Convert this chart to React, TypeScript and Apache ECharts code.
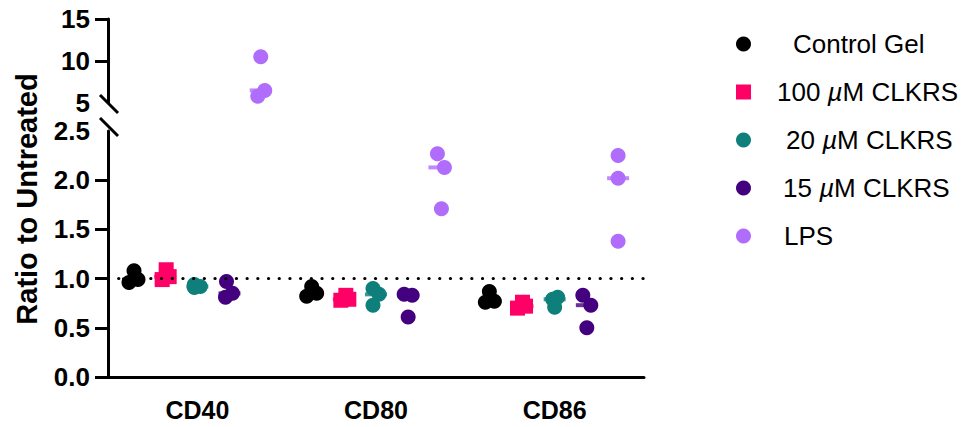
import React, { useEffect, useRef } from 'react';
import * as echarts from 'echarts';

const categories = ['CD40', 'CD80', 'CD86'];
const groupNames = ['Control Gel', '100 µM CLKRS', '20 µM CLKRS', '15 µM CLKRS', 'LPS'];
const groupColors = ['#000000', '#FF0066', '#0E7F7B', '#43007F', '#B06CFB'];
const groupSymbols = ['circle', 'rect', 'circle', 'circle', 'circle'];

// values per category (CD40, CD80, CD86), three replicates each
const controlGel = [[1.08, 0.96, 0.99], [0.92, 0.82, 0.85], [0.87, 0.76, 0.77]];
const clkrs100 = [[1.09, 0.99, 1.02], [0.83, 0.78, 0.79], [0.76, 0.70, 0.72]];
const clkrs20 = [[0.94, 0.92, 0.91], [0.90, 0.84, 0.73], [0.81, 0.79, 0.71]];
const clkrs15 = [[0.97, 0.81, 0.85], [0.84, 0.83, 0.61], [0.83, 0.73, 0.50]];
const lps = [[10.5, 6.5, 5.8], [2.27, 2.13, 1.71], [2.25, 2.02, 1.38]];
const groupValues = [controlGel, clkrs100, clkrs20, clkrs15, lps];

// horizontal scatter (px) of the replicates in each group
const controlGelJitter = [[1, -4, 5], [0, -5, 5], [-1, -5, 4]];
const clkrs100Jitter = [[1, -3, 4], [2, -3, 5], [0, -5, 3]];
const clkrs20Jitter = [[-3, 3, -3], [-3, 3, -3], [3, -2, 0]];
const clkrs15Jitter = [[-3, -4, 3], [-4, 4, 0], [-4, 4, 0]];
const lpsJitter = [[0, 4, -3], [-2, 5, 2], [0, 0, 0]];
const groupJitter = [controlGelJitter, clkrs100Jitter, clkrs20Jitter, clkrs15Jitter, lpsJitter];

const lowerTickLabels = [0, 0.5, 1, 1.5, 2, 2.5];
const lowerTicks = [0, 0.5, 1, 1.5, 2];
const upperTickLabels = [5, 10, 15];
const upperTicks = [10, 15];
const breakValue = 2.5;
const referenceValue = 1;

const groupOffsets = [-0.36, -0.18, 0, 0.18, 0.355];
const legendPad = [37, 21, 30, 27, 28];

const GRID_LEFT = 108;
const GRID_RIGHT = 321;
const BAND_PX = (965 - GRID_LEFT - GRID_RIGHT) / categories.length;

const FONT = '"Liberation Sans", Arial, Helvetica, sans-serif';

function median(a: number[]) {
  const s = [...a].sort((x, y) => x - y);
  return s[Math.floor(s.length / 2)];
}

export default function App() {
  const ref = useRef<HTMLDivElement>(null);
  useEffect(() => {
    if (!ref.current) return;
    const chart = echarts.init(ref.current, undefined, { renderer: 'svg' });

    const series: any[] = [];
    groupNames.forEach((name, g) => {
      const lower: number[][] = [];
      const upper: number[][] = [];
      const medLower: number[][] = [];
      const medUpper: number[][] = [];
      categories.forEach((_, c) => {
        const vals = groupValues[g][c];
        const cx = c + 0.5 + groupOffsets[g];
        vals.forEach((v, k) => {
          const x = cx + groupJitter[g][c][k] / BAND_PX;
          (v > breakValue ? upper : lower).push([x, v]);
        });
        const m = median(vals);
        (m > breakValue ? medUpper : medLower).push([cx, m]);
      });
      const base = {
        type: 'scatter',
        symbol: groupSymbols[g],
        symbolSize: 15,
        itemStyle: { color: groupColors[g], opacity: 1 },
        z: 3,
        silent: true,
      };
      series.push({ ...base, name, xAxisIndex: 1, yAxisIndex: 0, data: lower });
      series.push({ ...base, name, xAxisIndex: 2, yAxisIndex: 1, data: upper });
      const medBase = {
        type: 'scatter',
        symbol: 'rect',
        symbolSize: [22, 4],
        itemStyle: { color: groupColors[g] },
        z: 2,
        silent: true,
      };
      series.push({ ...medBase, name: name + ' median', xAxisIndex: 1, yAxisIndex: 0, data: medLower });
      series.push({ ...medBase, name: name + ' median ', xAxisIndex: 2, yAxisIndex: 1, data: medUpper });
    });
    series.push({
      type: 'line',
      name: 'reference',
      xAxisIndex: 1,
      yAxisIndex: 0,
      data: [],
      silent: true,
      z: 1,
      markLine: {
        silent: true,
        symbol: 'none',
        label: { show: false },
        lineStyle: { color: '#000', width: 3.2, type: [0.1, 10.6], cap: 'round' },
        data: [{ yAxis: referenceValue }],
      },
    });

    const rich: any = {
      i: { fontStyle: 'italic', fontSize: 26, fontFamily: FONT, color: '#000' },
      u: { fontSize: 26, fontFamily: FONT, color: '#000' },
    };
    legendPad.forEach((p, i) => {
      rich['t' + i] = { fontSize: 26, fontFamily: FONT, color: '#000', padding: [0, 0, 0, p] };
    });

    const axisLabelStyle = {
      fontSize: 26,
      fontWeight: 'bold',
      fontFamily: FONT,
      color: '#000',
      margin: 18,
    };

    chart.setOption({
      animation: false,
      backgroundColor: '#fff',
      grid: [
        { left: GRID_LEFT, right: GRID_RIGHT, top: 131, bottom: 50 },
        { left: GRID_LEFT, right: GRID_RIGHT, top: 19, height: 84 },
      ],
      xAxis: [
        {
          type: 'category',
          gridIndex: 0,
          data: categories,
          boundaryGap: true,
          axisLine: { lineStyle: { color: '#000', width: 3 } },
          axisTick: { alignWithLabel: true, length: 13, lineStyle: { color: '#000', width: 3 } },
          axisLabel: { ...axisLabelStyle, fontSize: 25, margin: 20 },
          splitLine: { show: false },
        },
        { type: 'value', gridIndex: 0, min: 0, max: 3, show: false },
        { type: 'value', gridIndex: 1, min: 0, max: 3, show: false },
      ],
      yAxis: [
        {
          type: 'value',
          gridIndex: 0,
          min: 0,
          max: breakValue,
          interval: 0.5,
          axisLine: { show: true, lineStyle: { color: '#000', width: 3 } },
          axisTick: { show: true, length: 13, customValues: lowerTicks, lineStyle: { color: '#000', width: 3 } },
          axisLabel: {
            ...axisLabelStyle,
            customValues: lowerTickLabels,
            showMinLabel: true,
            showMaxLabel: true,
            formatter: (v: number) => v.toFixed(1),
          },
          splitLine: { show: false },
        },
        {
          type: 'value',
          gridIndex: 1,
          min: 5,
          max: 15,
          interval: 5,
          axisLine: { show: true, lineStyle: { color: '#000', width: 3 } },
          axisTick: { show: true, length: 13, customValues: upperTicks, lineStyle: { color: '#000', width: 3 } },
          axisLabel: {
            ...axisLabelStyle,
            customValues: upperTickLabels,
            showMinLabel: true,
            showMaxLabel: true,
            formatter: (v: number) => String(v),
          },
          splitLine: { show: false },
        },
      ],
      legend: {
        orient: 'vertical',
        left: 736,
        top: 29,
        padding: 0,
        itemWidth: 15,
        itemHeight: 15,
        itemGap: 18,
        selectedMode: false,
        data: groupNames.map((n, i) => ({ name: n, icon: groupSymbols[i] === 'rect' ? 'rect' : 'circle' })),
        formatter: (name: string) => {
          const i = groupNames.indexOf(name);
          const parts = name.split('µ');
          if (parts.length > 1) return `{t${i}|${parts[0]}}{i|µ}{u|${parts[1]}}`;
          return `{t${i}|${name}}`;
        },
        textStyle: { fontSize: 26, fontFamily: FONT, color: '#000', lineHeight: 30, rich },
      },
      graphic: [
        {
          type: 'text',
          x: 27,
          y: 199,
          rotation: Math.PI / 2,
          style: {
            text: 'Ratio to Untreated',
            fontSize: 29,
            fontWeight: 'bold',
            fontFamily: FONT,
            fill: '#000',
            textAlign: 'center',
            textVerticalAlign: 'middle',
          },
        },
        { type: 'rect', shape: { x: 104, y: 104, width: 9, height: 24 }, style: { fill: '#fff' }, z: 100 },
        { type: 'line', shape: { x1: 100, y1: 95, x2: 118, y2: 113 }, style: { stroke: '#000', lineWidth: 3 }, z: 101 },
        { type: 'line', shape: { x1: 100, y1: 118, x2: 118, y2: 136 }, style: { stroke: '#000', lineWidth: 3 }, z: 101 },
      ],
      series,
    });
    return () => chart.dispose();
  }, []);
  return (
    <div
      ref={ref}
      style={{ position: 'fixed', left: 0, top: 0, width: 965, height: 427, background: '#fff' }}
    />
  );
}
